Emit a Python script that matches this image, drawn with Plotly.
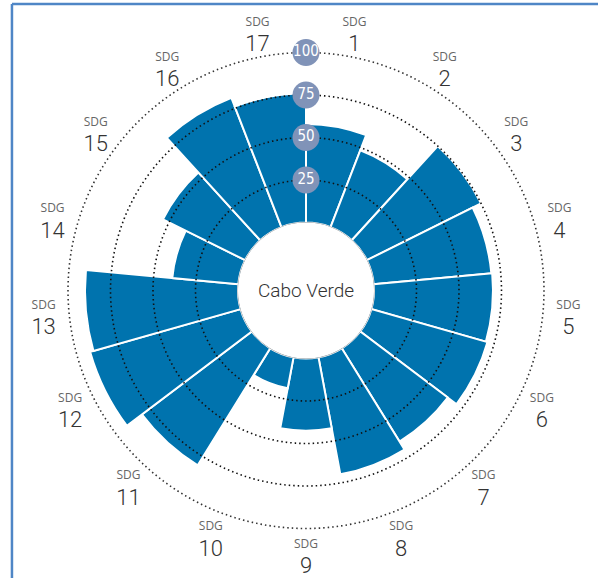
import numpy as np
import plotly.graph_objects as go

country = "Cabo Verde"
goal_numbers = [str(i) for i in range(1, 18)]
scores = [58, 48.5, 75, 69.5, 70, 71, 64.5, 70, 42.5, 18.5, 81, 92, 90, 39, 54, 81.5, 76]
ring_values = [25, 50, 75, 100]
ring_labels = ["25", "50", "75", "100"]

BAR = "#0073ae"
BADGE = "#8093b8"
LABEL_R = 115
R_MAX = 125

n = len(scores)
width = 360 / n
theta = [(i + 0.5) * width for i in range(n)]

fig = go.Figure()

fig.add_trace(go.Barpolar(
    r=scores, theta=theta, width=[width] * n,
    marker=dict(color=BAR, line=dict(color="white", width=2)),
    hoverinfo="skip", showlegend=False,
))

# dotted reference rings
circle_theta = np.linspace(0, 360, 721)
for v in ring_values:
    fig.add_trace(go.Scatterpolar(
        r=[v] * len(circle_theta), theta=circle_theta, mode="lines",
        line=dict(color="#111111" if v < 100 else "#333333", width=1.6, dash="1.5px,3px"),
        hoverinfo="skip", showlegend=False,
    ))

# thin outline round the hole
fig.add_trace(go.Scatterpolar(
    r=[0] * len(circle_theta), theta=circle_theta, mode="lines",
    line=dict(color="#9a9a9a", width=1),
    hoverinfo="skip", showlegend=False,
))

# ring value badges
fig.add_trace(go.Scatterpolar(
    r=ring_values, theta=[0] * len(ring_values), mode="markers+text",
    marker=dict(color=BADGE, size=27, line=dict(width=0)),
    text=ring_labels, textposition="middle center",
    textfont=dict(color="white", size=15,
                  family="Liberation Sans Narrow, DejaVu Sans Condensed, Roboto, sans-serif"),
    cliponaxis=False, hoverinfo="skip", showlegend=False,
))

# goal labels outside the ring: small "SDG" above, number below
# (invisible markers only add a little space between the two lines)
fig.add_trace(go.Scatterpolar(
    r=[LABEL_R] * n, theta=theta, mode="markers+text",
    marker=dict(size=3, opacity=0),
    text=["SDG"] * n, textposition="top center",
    textfont=dict(color="#666666", size=12, family="Open Sans, sans-serif"),
    cliponaxis=False, hoverinfo="skip", showlegend=False,
))
fig.add_trace(go.Scatterpolar(
    r=[LABEL_R] * n, theta=theta, mode="markers+text",
    marker=dict(size=3, opacity=0),
    text=goal_numbers, textposition="bottom center",
    textfont=dict(color="#333333", size=22, family="Roboto, sans-serif", weight=300),
    cliponaxis=False, hoverinfo="skip", showlegend=False,
))

dom_x = [0.04264, 0.98077]
dom_y = [0.01211, 0.98270]

fig.update_layout(
    width=598, height=578,
    margin=dict(l=0, r=0, t=0, b=0),
    paper_bgcolor="white",
    plot_bgcolor="white",
    showlegend=False,
    polar=dict(
        domain=dict(x=dom_x, y=dom_y),
        hole=0.2424,
        bgcolor="rgba(0,0,0,0)",
        bargap=0,
        radialaxis=dict(range=[0, R_MAX], visible=False, showgrid=False),
        angularaxis=dict(rotation=90, direction="clockwise", visible=False,
                         showgrid=False, showline=False),
    ),
    annotations=[dict(
        text=country, x=sum(dom_x) / 2, y=sum(dom_y) / 2,
        xref="paper", yref="paper", showarrow=False,
        font=dict(size=19, color="#333333", family="Roboto, sans-serif", weight=300),
    )],
    shapes=[
        dict(type="line", xref="paper", yref="paper", x0=0.02, x1=0.02, y0=0, y1=0.9931,
             line=dict(color="#4f86c6", width=2.5)),
        dict(type="line", xref="paper", yref="paper", x0=0.02, x1=1, y0=0.9931, y1=0.9931,
             line=dict(color="#4f86c6", width=2.5)),
    ],
)

fig.write_html("out.html", config={"displayModeBar": False},
               post_script="document.body.style.margin='0';")
